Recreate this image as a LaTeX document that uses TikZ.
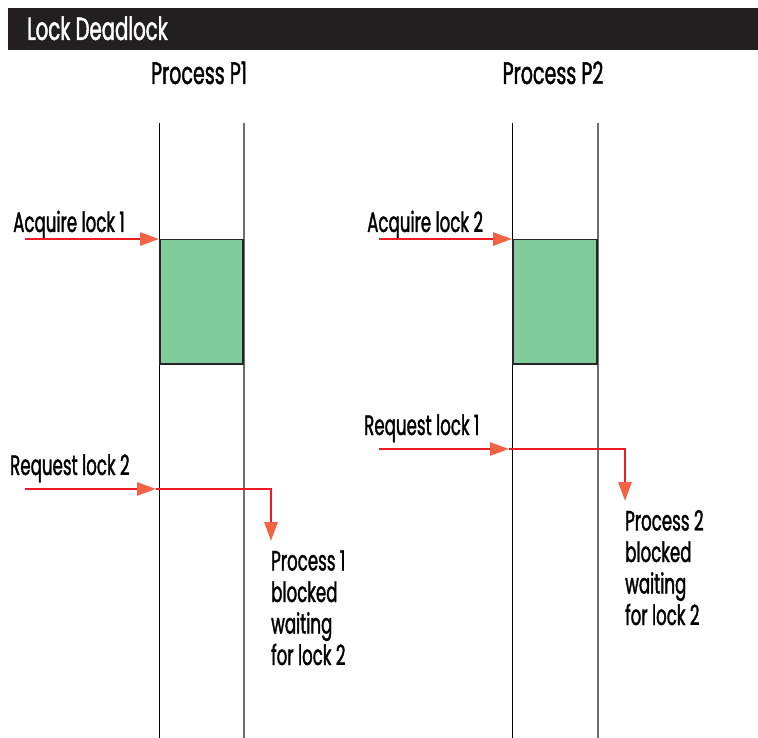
\documentclass[tikz,border=0pt]{standalone}
\usepackage{fontspec}
\setmainfont{Poppins}[FakeStretch=0.615,FakeBold=1.3]
\newfontfamily\lblfont{Poppins}[FakeStretch=0.595,FakeBold=1.3]
\usetikzlibrary{arrows.meta}
\definecolor{barc}{HTML}{231F20}
\definecolor{redc}{HTML}{ED1C24}
\definecolor{headc}{HTML}{F26244}
\definecolor{greenc}{HTML}{82CB9B}
\definecolor{lanegray}{HTML}{6D6E71}
\tikzset{
  lbl/.style={anchor=base west, inner sep=0, font=\lblfont\fontsize{28}{31.5}\selectfont, align=left},
  ptitle/.style={anchor=base, inner sep=0, font=\fontsize{31}{36}\selectfont},
  laneL/.style={draw=black, line width=1pt},
  laneR/.style={draw=lanegray, line width=2pt},
  gbox/.style={draw=black!85, line width=1.5pt, fill=greenc, minimum width=83pt, minimum height=124pt, anchor=north west, inner sep=0},
  hd/.tip={Triangle[length=19pt,width=13pt,color=headc]},
  redl/.style={draw=redc, line width=2.7pt, -hd},
}
\begin{document}
\begin{tikzpicture}[x=1pt,y=-1pt]
\useasboundingbox (0,0) rectangle (758,738);
% title bar
\node[fill=barc, minimum width=750pt, minimum height=42pt, anchor=north west, inner sep=0] (bar) at (8,8) {};
\node[anchor=base west, inner sep=0, text=white, font=\fontsize{32}{36}\selectfont] (title) at (27,40) {Lock Deadlock};
% process titles
\node[ptitle] (p1) at (199,84) {Process P1};
\node[ptitle] (p2) at (553,84) {Process P2};
% lanes
\coordinate (l1at) at (159,123); \coordinate (l1ab) at (159,738);
\coordinate (l1bt) at (244,123); \coordinate (l1bb) at (244,738);
\coordinate (l2at) at (512,123); \coordinate (l2ab) at (512,738);
\coordinate (l2bt) at (598,123); \coordinate (l2bb) at (598,738);
\draw[laneL] (l1at) -- (l1ab);
\draw[laneR] (l1bt) -- (l1bb);
\draw[laneL] (l2at) -- (l2ab);
\draw[laneR] (l2bt) -- (l2bb);
% boxes
\node[gbox] (b1) at (159,239) {};
\node[gbox, minimum width=84pt] (b2) at (512,239) {};
% acquire arrows
\node[lbl] (acq1) at (13,232) {Acquire lock 1};
\node[lbl] (acq2) at (367,232) {Acquire lock 2};
\coordinate (a1s) at (25,239);
\coordinate (a2s) at (379,239);
\draw[redl] (a1s) -- (b1.north west);
\draw[redl] (a2s) -- (b2.north west);
% request P1
\node[lbl] (rq1) at (10,475) {Request lock 2};
\coordinate (r1s) at (25,489);
\coordinate (r1m) at (156,489);
\coordinate (r1c) at (271,489);
\coordinate (r1e) at (271,541);
\draw[redl] (r1s) -- (r1m);
\draw[redl] (r1m) -- (r1c) -- (r1e);
\node[lbl] (blk1) at (271,665) {Process 1\\blocked\\waiting\\for lock 2};
% request P2
\node[lbl] (rq2) at (364,435) {Request lock 1};
\coordinate (r2s) at (379,449);
\coordinate (r2m) at (509,449);
\coordinate (r2c) at (625,449);
\coordinate (r2e) at (625,501);
\draw[redl] (r2s) -- (r2m);
\draw[redl] (r2m) -- (r2c) -- (r2e);
\node[lbl] (blk2) at (625,625) {Process 2\\blocked\\waiting\\for lock 2};
\end{tikzpicture}
\end{document}
